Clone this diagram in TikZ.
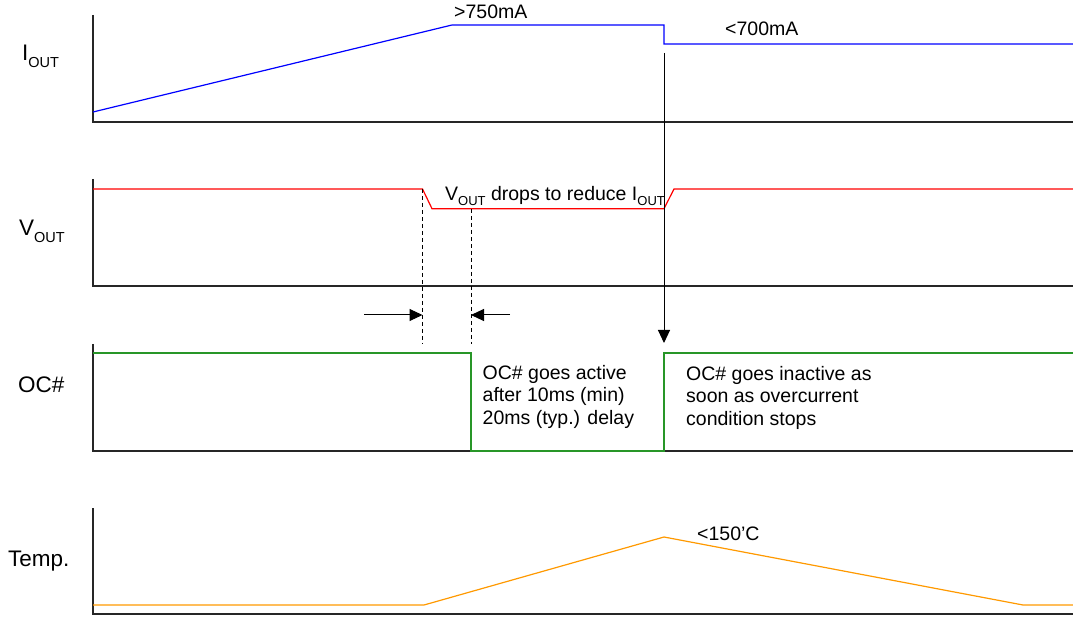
\documentclass[tikz,border=0pt]{standalone}
\usepackage{fontspec}
\setmainfont{Liberation Sans}
\usetikzlibrary{arrows.meta}
\definecolor{sigblue}{RGB}{0,0,255}
\definecolor{sigred}{RGB}{255,0,0}
\definecolor{siggreen}{RGB}{40,150,40}
\definecolor{sigorange}{RGB}{255,153,0}
\newcommand{\axlabsub}[1]{\raisebox{-7pt}{\fontsize{14.5}{15}\selectfont #1}}
\newcommand{\txtsub}[1]{\raisebox{-5pt}{\fontsize{13}{14}\selectfont #1}}
\tikzset{
  axis/.style={line width=1.4pt, black!85},
  sig/.style={line width=1.2pt},
  dash line/.style={line width=1pt, dash pattern=on 4pt off 3pt},
  pointer/.style={line width=1pt, -{Triangle[length=13pt,width=12pt]}},
  axlab/.style={inner sep=0pt, anchor=base west, font=\fontsize{22.5}{24}\selectfont},
  note/.style={inner sep=0pt, anchor=base west, font=\fontsize{19.5}{22.5}\selectfont, align=left},
}
\begin{document}
\begin{tikzpicture}[x=1pt,y=-1pt]
\useasboundingbox (0,0) rectangle (1073,617);
% axes
\draw[axis] (93,15) -- (93,122) -- (1073,122);
\draw[axis] (93,179) -- (93,286) -- (1073,286);
\draw[axis] (93,344) -- (93,451) -- (1073,451);
\draw[axis] (93,508) -- (93,614) -- (1073,614);
% axis labels
\node[axlab] (liout) at (22,61) {I\axlabsub{OUT}};
\node[axlab] (lvout) at (19,236) {V\axlabsub{OUT}};
\node[axlab] (loc) at (18,392) {OC\#};
\node[axlab] (ltemp) at (8,566) {Temp.};
% signals
\draw[sig, sigblue] (93,112) -- (452,25) -- (664,25) -- (664,44) -- (1073,44);
\draw[sig, sigred] (93,189) -- (422.5,189) -- (432,208.7) -- (664,208.7) -- (674,189) -- (1073,189);
\draw[sig, siggreen] (93,353) -- (471,353) -- (471,451) -- (664,451) -- (664,353) -- (1073,353);
\draw[sig, sigorange] (93,605) -- (424,605) -- (664,537) -- (1023,605) -- (1073,605);
% annotations
\node[note] (t750) at (454,19) {>750mA};
\node[note] (t700) at (725,36) {<700mA};
\node[note] (tdrop) at (445,200.5) {V\txtsub{OUT} drops to reduce I\txtsub{OUT}};
\node[note] (tact) at (482.5,424) {OC\# goes active\\after 10ms (min)\\20ms (typ.) delay};
\node[note] (tinact) at (686,425) {OC\# goes inactive as\\soon as overcurrent\\condition stops};
\node[note] (t150) at (697,540) {<150’C};
% dashed markers and arrows
\coordinate (d1t) at (422.5,189);
\coordinate (d1b) at (422.5,344);
\coordinate (d2t) at (471,209);
\coordinate (d2b) at (471,344);
\draw[dash line] (d1t) -- (d1b);
\draw[dash line] (d2t) -- (d2b);
\coordinate (a1s) at (364,315);
\coordinate (a1e) at (422.5,315);
\coordinate (a2s) at (510,315);
\coordinate (a2e) at (471,315);
\draw[pointer] (a1s) -- (a1e);
\draw[pointer] (a2s) -- (a2e);
\coordinate (vt) at (664,53);
\coordinate (vb) at (664,343);
\draw[pointer] (vt) -- (vb);
\end{tikzpicture}
\end{document}
